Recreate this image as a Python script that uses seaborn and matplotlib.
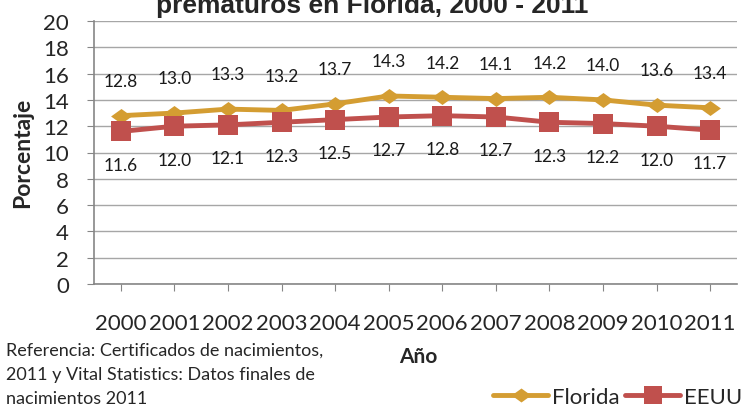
import pandas as pd
import matplotlib
matplotlib.use("Agg")
import matplotlib.pyplot as plt
import seaborn as sns
from matplotlib.lines import Line2D

# Datos
years = [2000, 2001, 2002, 2003, 2004, 2005, 2006, 2007, 2008, 2009, 2010, 2011]
florida = [12.8, 13.0, 13.3, 13.2, 13.7, 14.3, 14.2, 14.1, 14.2, 14.0, 13.6, 13.4]
eeuu = [11.6, 12.0, 12.1, 12.3, 12.5, 12.7, 12.8, 12.7, 12.3, 12.2, 12.0, 11.7]
series_names = ["Florida", "EEUU"]
y_ticks = list(range(0, 21, 2))

title = "prematuros en Florida, 2000 - 2011"
note = ("Referencia: Certificados de nacimientos,\n"
        "2011 y Vital Statistics: Datos finales de\n"
        "nacimientos 2011")

col_fl = "#D49D32"
col_us = "#C0504D"

# rombo ancho como el de Excel
diamond = [(-1, 0), (0, 0.72), (1, 0), (0, -0.72), (-1, 0)]

df = pd.DataFrame({
    "Año": years * 2,
    "Porcentaje": florida + eeuu,
    "Serie": [series_names[0]] * len(years) + [series_names[1]] * len(years),
})

sns.set_style("white")
plt.rcParams["font.family"] = ["Lato", "DejaVu Sans"]

fig = plt.figure(figsize=(7.45, 4.10), dpi=100)
ax = fig.add_axes([94 / 745, 1 - 285 / 410, (737 - 94) / 745, (285 - 22) / 410])

sns.lineplot(data=df[df["Serie"] == "Florida"], x="Año", y="Porcentaje",
             color=col_fl, marker=diamond, linewidth=3.5, markersize=15,
             markeredgewidth=0, ax=ax, zorder=3)
sns.lineplot(data=df[df["Serie"] == "EEUU"], x="Año", y="Porcentaje",
             color=col_us, marker="s", linewidth=3.5, markersize=14,
             markeredgewidth=0, ax=ax, zorder=3)

# Etiquetas de datos
for x, v in zip(years, florida):
    ax.annotate(f"{v:.1f}", (x, v), xytext=(0, 25), textcoords="offset points",
                ha="center", va="center", fontsize=12.5, color="#1a1a1a")
for x, v in zip(years, eeuu):
    ax.annotate(f"{v:.1f}", (x, v), xytext=(0, -24), textcoords="offset points",
                ha="center", va="center", fontsize=12.5, color="#1a1a1a")

ax.set_xlim(years[0] - 0.5, years[-1] + 0.5)
ax.set_ylim(0, 20)
ax.set_yticks(y_ticks)
ax.set_xticks(years)
ax.set_xticklabels([str(y) for y in years])
ax.tick_params(axis="both", labelsize=16, color="#868686", length=5, direction="out")
ax.tick_params(axis="x", pad=16, bottom=True)
ax.tick_params(axis="y", pad=13, left=True)
ax.grid(axis="y", color="#A6A6A6", linewidth=1)
ax.set_axisbelow(True)
for s in ["top", "right"]:
    ax.spines[s].set_visible(False)
for s in ["left", "bottom"]:
    ax.spines[s].set_color("#868686")
    ax.spines[s].set_linewidth(1.2)
ax.set_xlabel("")
ax.set_ylabel("")

# Textos
fig.text(372 / 745, 1 - 13 / 410, title, ha="center", va="baseline",
         fontsize=19, fontweight="bold", family=["Liberation Sans", "DejaVu Sans"])
fig.text(23 / 745, 1 - 153 / 410, "Porcentaje", rotation=90, ha="center", va="center",
         fontsize=16.5, fontweight="bold")
fig.text(418 / 745, 1 - 357 / 410, "Año", ha="center", va="center",
         fontsize=15, fontweight="bold")
fig.text(6 / 745, 1 - 343 / 410, note, ha="left", va="top", fontsize=13,
         linespacing=1.6)

handles = [Line2D([], [], color=col_fl, marker=diamond, markersize=14, linewidth=3.5, markeredgewidth=0),
           Line2D([], [], color=col_us, marker="s", markersize=13, linewidth=3.5, markeredgewidth=0)]
fig.legend(handles, series_names, loc="center right", bbox_to_anchor=(0.996, 1 - 398 / 410),
           ncol=2, frameon=False, fontsize=16, handlelength=2.5, handletextpad=0.15,
           columnspacing=0.25, numpoints=1, borderpad=0, borderaxespad=0)

fig.savefig("out.png", dpi=100)
